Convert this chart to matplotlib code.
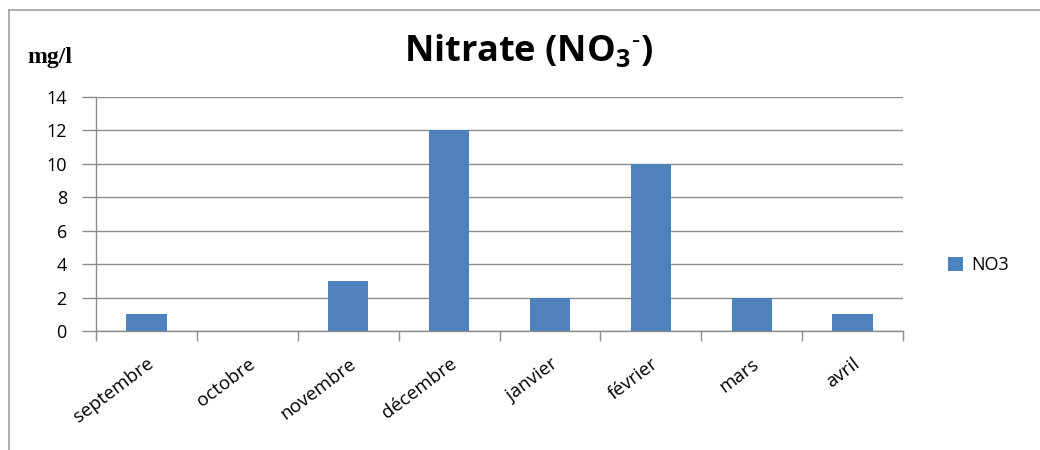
import matplotlib

matplotlib.use("Agg")

import matplotlib.pyplot as plt
import numpy as np

months = ["septembre", "octobre", "novembre", "décembre", "janvier", "février", "mars", "avril"]
no3_values = [1, 0, 3, 12, 2, 10, 2, 1]
y_ticks = [0, 2, 4, 6, 8, 10, 12, 14]

BAR_COLOR = "#4F81BD"
GRID_COLOR = "#8C8C8C"

plt.rcParams["font.family"] = ["Open Sans", "DejaVu Sans"]
plt.rcParams["mathtext.fontset"] = "custom"
plt.rcParams["mathtext.rm"] = "Open Sans:bold"
plt.rcParams["mathtext.bf"] = "Open Sans:bold"

fig = plt.figure(figsize=(10.4, 4.5), dpi=100)
ax = fig.add_axes([0.0923, 0.2644, 0.776, 0.52])

x = np.arange(len(months))
bars = ax.bar(x, no3_values, width=0.4, color=BAR_COLOR, zorder=3, label="NO3")

ax.set_xlim(-0.5, len(months) - 0.5)
ax.set_ylim(0, 14)
ax.set_yticks(y_ticks)
ax.set_yticklabels([str(v) for v in y_ticks], fontsize=13)
ax.yaxis.grid(True, color=GRID_COLOR, linewidth=1, zorder=0)

# category ticks sit between the bars, labels at the bar centres
ax.set_xticks(np.arange(len(months) + 1) - 0.5)
ax.set_xticklabels([])
ax.set_xticks(x, minor=True)
ax.set_xticklabels(months, minor=True, rotation=37, ha="right",
                   rotation_mode="anchor", fontsize=13.5)
ax.tick_params(axis="x", which="major", length=7, color=GRID_COLOR, width=1)
ax.tick_params(axis="x", which="minor", length=0, pad=17)
ax.tick_params(axis="y", length=10, color=GRID_COLOR, width=1, pad=11)

for side in ["top", "right"]:
    ax.spines[side].set_visible(False)
for side in ["left", "bottom"]:
    ax.spines[side].set_color(GRID_COLOR)
    ax.spines[side].set_linewidth(1)

fig.text(0.508, 0.886, "Nitrate (NO$_{3}$$^{\u2010}$)", ha="center", va="center",
         fontsize=26, fontweight="bold")
fig.text(0.026, 0.873, "mg/l", ha="left", va="center", fontsize=17,
         fontweight="bold", family="Liberation Serif")

leg = fig.legend(handles=[bars], labels=["NO3"], loc="center left",
                 bbox_to_anchor=(0.896, 0.411), frameon=False, fontsize=13,
                 handlelength=0.8, handleheight=0.8, handletextpad=0.5)

# chart frame (only top and left edges are visible in the crop)
fig.add_artist(plt.Line2D([0.0087, 1.0], [0.978, 0.978], color="#A0A0A0", linewidth=1.2))
fig.add_artist(plt.Line2D([0.0087, 0.0087], [0.0, 0.978], color="#A0A0A0", linewidth=1.2))

plt.savefig("out.png", dpi=100)
plt.close(fig)
